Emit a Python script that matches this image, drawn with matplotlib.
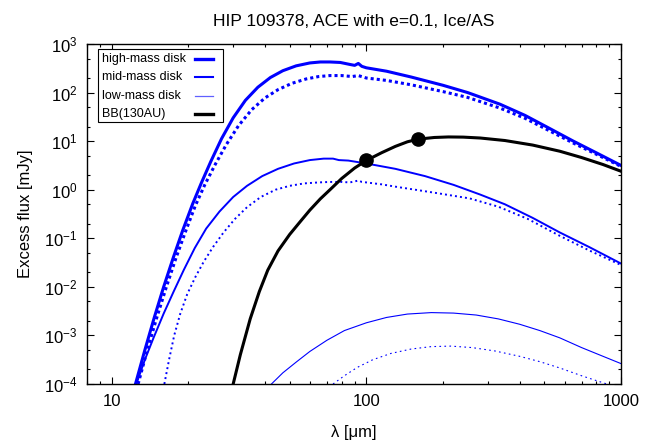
import matplotlib
matplotlib.use("Agg")
import matplotlib.pyplot as plt
import matplotlib.ticker as mticker
import numpy as np
from matplotlib.lines import Line2D
from matplotlib.patches import Rectangle

plt.rcParams["font.family"] = ["Liberation Sans", "DejaVu Sans"]
plt.rcParams["mathtext.default"] = "regular"

# --- values: wavelength [um], log10 of excess flux [mJy] ---
high_lam = [12.4, 13.5, 14.7, 16.0, 17.5, 19.0, 20.8, 22.5, 24.5, 27, 30, 33.5, 37.5, 42,
            47, 53, 60, 66, 72, 79, 86, 90, 93, 96, 100, 120, 150, 200, 250, 335, 420,
            525, 650, 800, 1000]
high_logf = [-4.0, -3.30, -2.63, -2.00, -1.38, -0.84, -0.29, 0.14, 0.58, 1.05, 1.48, 1.84,
             2.11, 2.31, 2.45, 2.55, 2.61, 2.63, 2.63, 2.62, 2.58, 2.56, 2.60, 2.54, 2.51,
             2.44, 2.32, 2.15, 2.00, 1.76, 1.53, 1.26, 1.00, 0.76, 0.50]

high_dot_lam = [12.7, 13.8, 15.0, 16.4, 17.9, 19.5, 21.3, 23.2, 25.5, 28.2, 31.5, 35.5, 40,
                45, 51, 58, 65, 72, 80, 88, 93, 100, 120, 150, 200, 250, 335, 420, 525,
                650, 800, 1000]
high_dot_logf = [-4.0, -3.30, -2.65, -2.00, -1.40, -0.86, -0.33, 0.10, 0.52, 0.93, 1.32,
                 1.65, 1.89, 2.06, 2.19, 2.28, 2.33, 2.35, 2.35, 2.33, 2.35, 2.30, 2.25,
                 2.16, 2.02, 1.90, 1.68, 1.47, 1.21, 0.96, 0.73, 0.48]

mid_lam = [12.5, 13.5, 14.6, 16, 17.5, 19.2, 21.2, 23.5, 26.5, 30, 34, 39, 45, 52, 60, 68,
           74, 78, 85, 100, 130, 170, 220, 280, 350, 450, 575, 750, 1000]
mid_logf = [-4.0, -3.5, -3.05, -2.55, -2.10, -1.65, -1.20, -0.80, -0.45, -0.15, 0.08, 0.28,
            0.43, 0.54, 0.61, 0.64, 0.64, 0.61, 0.60, 0.54, 0.43, 0.28, 0.10, -0.10, -0.30,
            -0.58, -0.88, -1.18, -1.52]

mid_dot_lam = [16.1, 16.8, 17.6, 18.6, 19.8, 21.3, 23, 25, 27.5, 30.5, 34, 38.5, 44, 50, 57,
               65, 72, 80, 86, 90, 93, 96, 100, 115, 131, 160, 200, 255, 330, 430, 575,
               750, 1000]
mid_dot_logf = [-4.0, -3.5, -3.0, -2.55, -2.15, -1.80, -1.48, -1.18, -0.88, -0.60, -0.36,
                -0.15, 0.0, 0.08, 0.13, 0.15, 0.16, 0.16, 0.15, 0.17, 0.19, 0.16, 0.15,
                0.11, 0.06, -0.01, -0.09, -0.18, -0.35, -0.60, -0.95, -1.25, -1.55]

low_lam = [42.4, 47, 53, 60, 70, 82, 100, 120, 145, 180, 220, 270, 330, 400, 480, 575, 700,
           850, 1000]
low_logf = [-4.0, -3.77, -3.55, -3.33, -3.10, -2.90, -2.74, -2.63, -2.56, -2.53, -2.54,
            -2.58, -2.66, -2.77, -2.90, -3.05, -3.25, -3.43, -3.58]

low_dot_lam = [74, 82, 92, 106, 125, 150, 180, 215, 260, 320, 400, 480, 575, 700, 800, 906]
low_dot_logf = [-4.0, -3.83, -3.66, -3.50, -3.37, -3.28, -3.23, -3.22, -3.25, -3.32, -3.43,
                -3.54, -3.67, -3.83, -3.93, -4.02]

bb_lam = [30, 32, 35, 38, 41, 45, 50, 55, 60, 66, 72, 80, 90, 100, 115, 130, 145, 160, 185,
          210, 240, 280, 350, 450, 575, 700, 850, 1000]
bb_flux = [1e-4, 4e-4, 2.2e-3, 8e-3, 0.022, 0.055, 0.12, 0.22, 0.38, 0.65, 1.0, 1.7, 2.8,
           4.0, 5.8, 7.8, 9.7, 11.0, 11.9, 12.2, 12.1, 11.6, 10.3, 8.3, 6.2, 4.6, 3.3, 2.4]

obs_lam = [100, 160]
obs_flux = [4.0, 11.0]

legend_labels = ["high-mass disk", "mid-mass disk", "low-mass disk", "BB(130AU)"]

W, H = 667, 444
fig = plt.figure(figsize=(W / 100, H / 100), dpi=100)
L, R, T, B = 87, 621, 44, 384
ax = fig.add_axes([L / W, 1 - B / H, (R - L) / W, (B - T) / H])

blue = "#0000ff"
lw_hi, lw_mid, lw_lo = 2.2, 1.4, 0.8

ax.plot(high_lam, 10 ** np.array(high_logf), color=blue, lw=lw_hi)
ax.plot(high_dot_lam, 10 ** np.array(high_dot_logf), color=blue, lw=lw_hi,
        linestyle=(0, (1, 1.0)))
ax.plot(mid_lam, 10 ** np.array(mid_logf), color=blue, lw=lw_mid)
ax.plot(mid_dot_lam, 10 ** np.array(mid_dot_logf), color=blue, lw=lw_mid,
        linestyle=(0, (1, 1.6)))
ax.plot(low_lam, 10 ** np.array(low_logf), color=blue, lw=lw_lo)
ax.plot(low_dot_lam, 10 ** np.array(low_dot_logf), color=blue, lw=lw_lo,
        linestyle=(0, (1.5, 3)))
ax.plot(bb_lam, bb_flux, color="black", lw=2.2)
ax.plot(obs_lam, obs_flux, "o", color="black", ms=9.5, zorder=5)

ax.set_xscale("log")
ax.set_yscale("log")
ax.set_xlim(8, 1000)
ax.set_ylim(1e-4, 1e3)

ax.xaxis.set_major_locator(mticker.FixedLocator([10, 100, 1000]))
ax.xaxis.set_major_formatter(mticker.FuncFormatter(lambda v, p: f"{int(round(v))}"))
ax.xaxis.set_minor_locator(mticker.LogLocator(base=10, subs=range(2, 10), numticks=20))
ax.xaxis.set_minor_formatter(mticker.NullFormatter())
ax.yaxis.set_major_locator(mticker.LogLocator(base=10, numticks=20))
ax.yaxis.set_minor_locator(mticker.LogLocator(base=10, subs=(2, 5), numticks=20))
ax.yaxis.set_minor_formatter(mticker.NullFormatter())

ax.tick_params(which="both", direction="in", top=True, right=True, labelsize=12, width=0.8)
ax.tick_params(which="major", length=5, pad=7)
ax.tick_params(which="minor", length=2.5)
for s in ax.spines.values():
    s.set_linewidth(1.0)

ax.set_xlabel("λ [μm]", fontsize=12, labelpad=12)
ax.set_ylabel("Excess flux [mJy]", fontsize=12, labelpad=8)
ax.set_title("HIP 109378, ACE with e=0.1, Ice/AS", fontsize=12.5, pad=13)


# gnuplot-style key: text left, sample line right
def px(x, y):
    return x / W, 1 - y / H


x0, y0 = px(L + 11, T + 5)
x1, y1 = px(L + 136, T + 78)
fig.add_artist(Rectangle((x0, y1), x1 - x0, y0 - y1, transform=fig.transFigure,
                         facecolor="white", edgecolor="black", lw=0.8, zorder=10))
key_styles = [(blue, 2.4), (blue, 1.5), ("#6060ff", 0.9), ("black", 2.4)]
for i, (lab, (c, w)) in enumerate(zip(legend_labels, key_styles)):
    yy = T + 15 + 18.3 * i
    tx, ty = px(L + 15, yy)
    fig.text(tx, ty, lab, fontsize=9, ha="left", va="center", zorder=11)
    lx0, ly = px(L + 108, yy)
    lx1, _ = px(L + 126, yy)
    fig.add_artist(Line2D([lx0, lx1], [ly, ly], color=c, lw=w,
                          transform=fig.transFigure, zorder=11))

fig.savefig("out.png", dpi=100)
